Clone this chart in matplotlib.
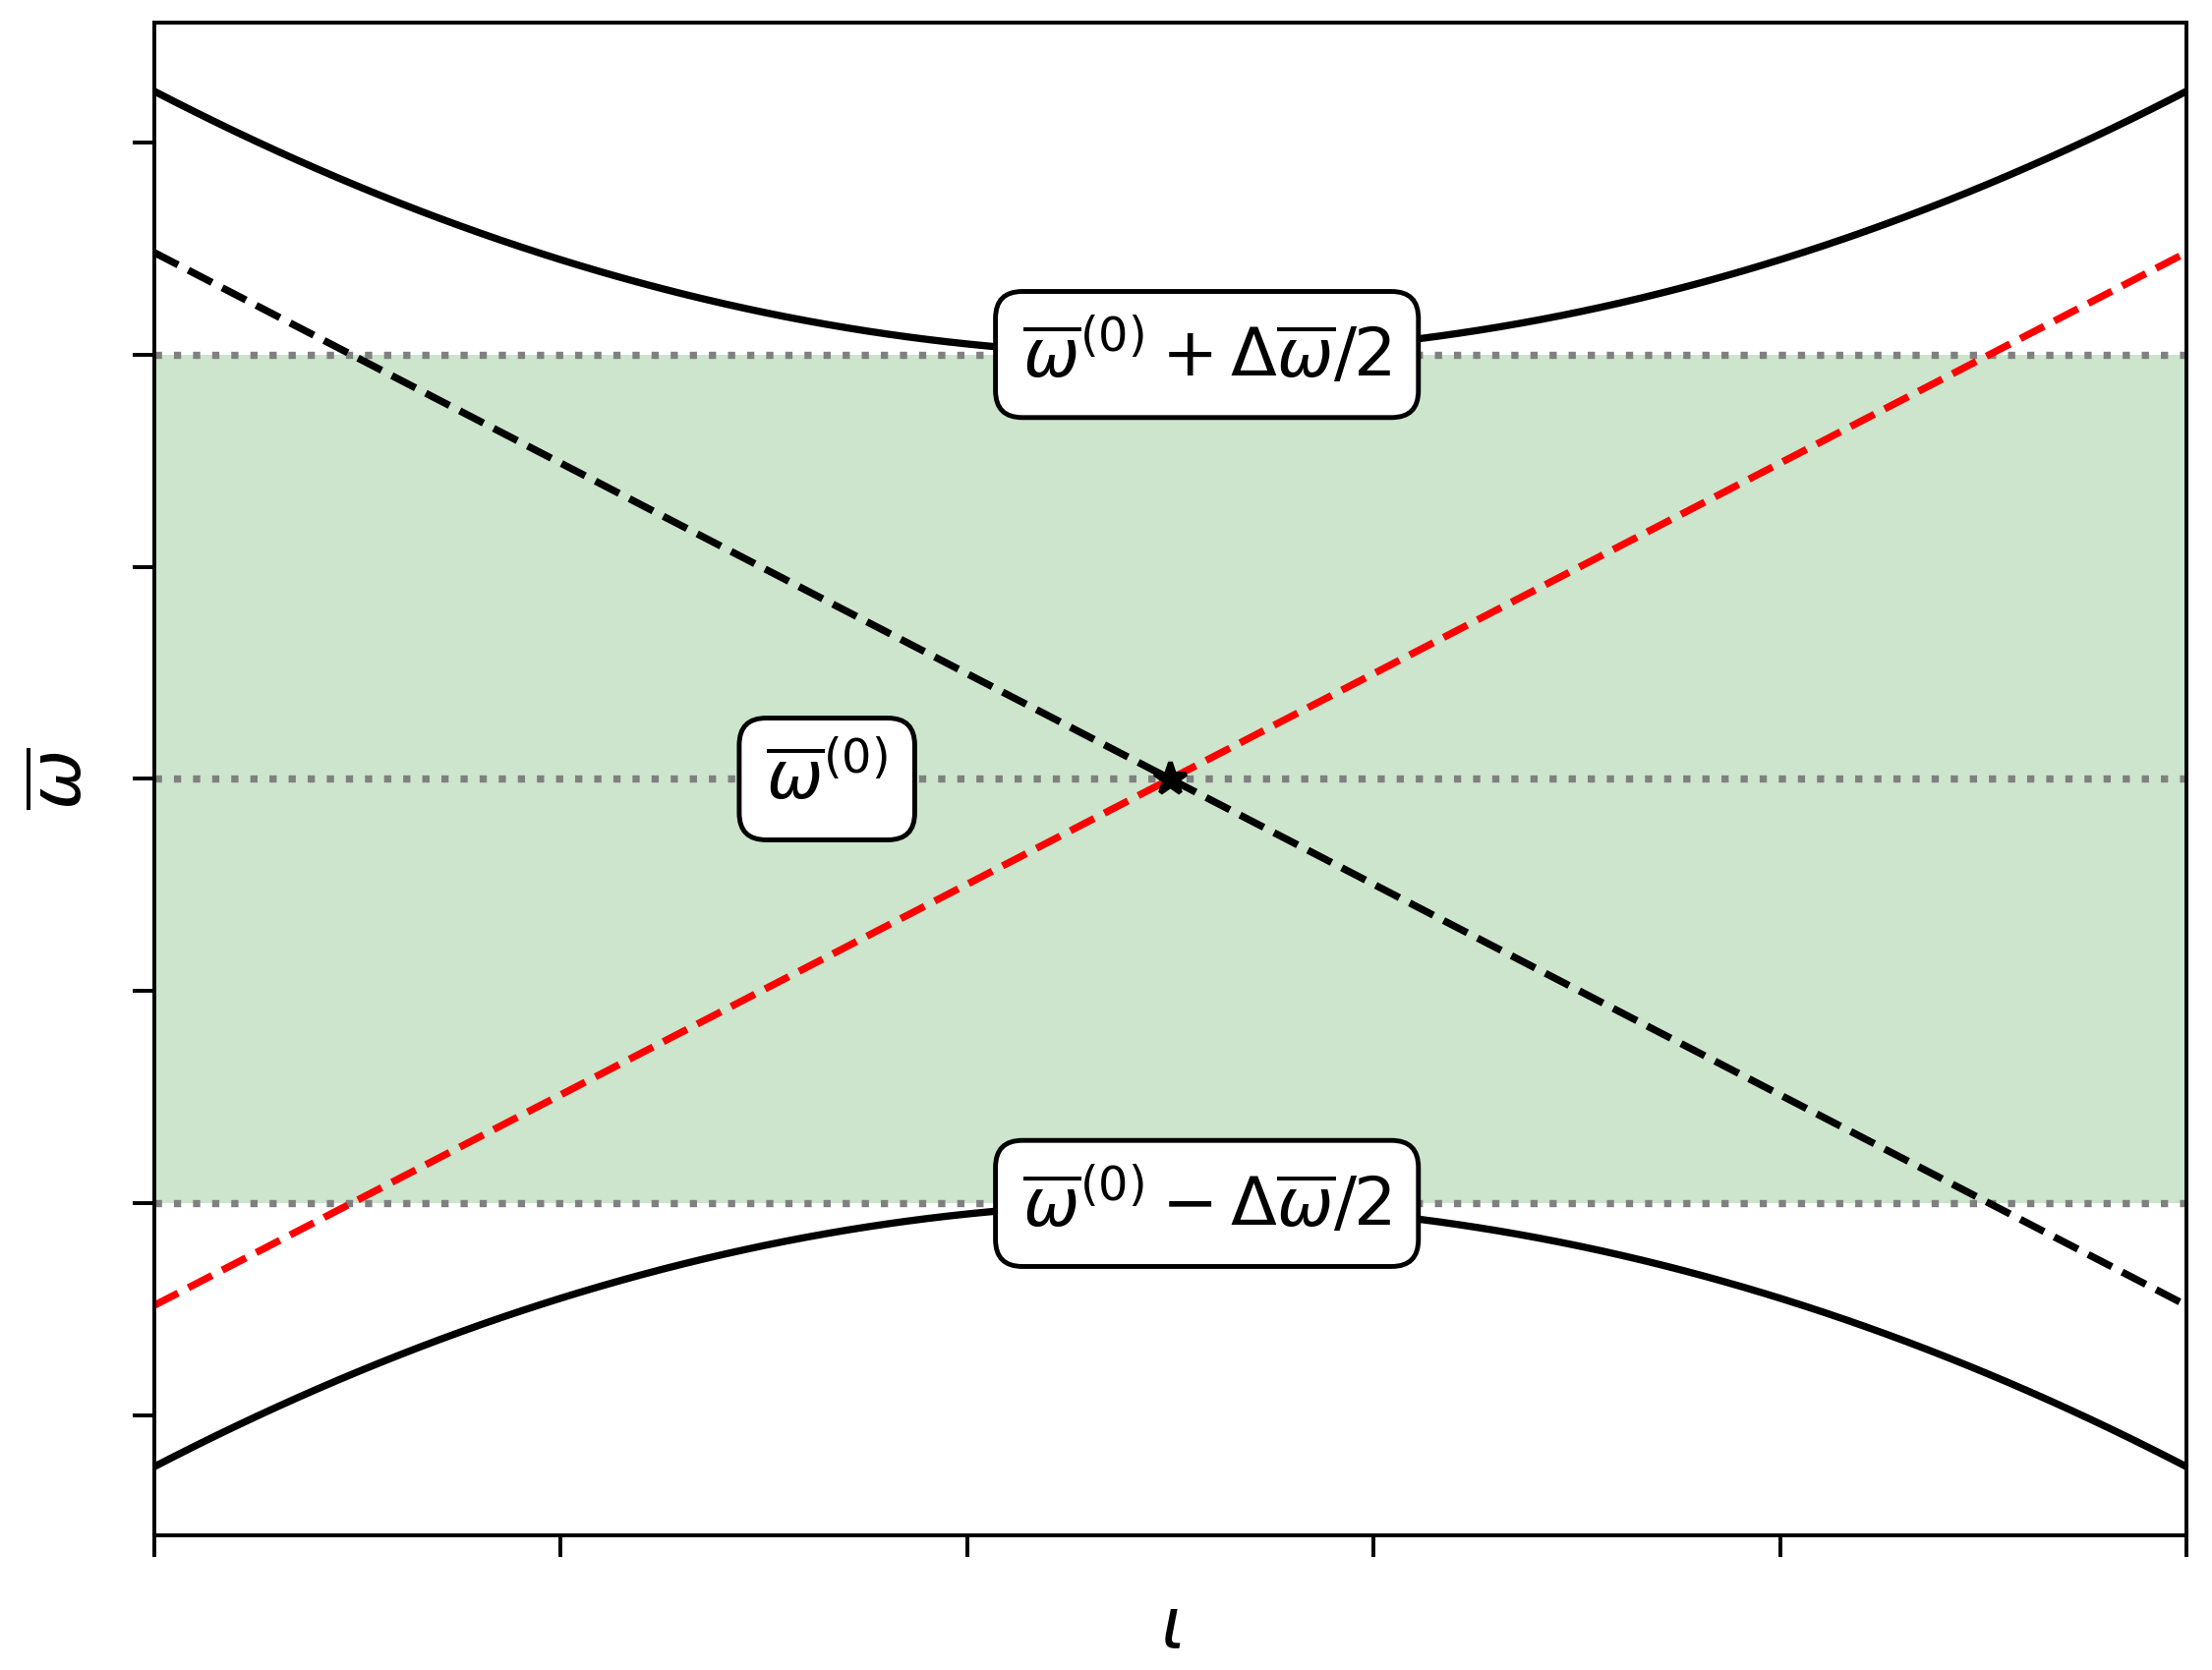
import numpy as np
import matplotlib
matplotlib.use("Agg")
import matplotlib.pyplot as plt

# Model parameters (schematic avoided crossing)
iota_min, iota_max = 0.0, 1.0
iota_cross = 0.5
omega0 = 0.0          # centre frequency
delta_omega = 2.0     # band width
slope = 2.48          # diabatic slope
curvature = 2.48      # curvature of the adiabatic branches
xticks = [0.0, 0.2, 0.4, 0.6, 0.8, 1.0]
yticks = [-1.5, -1.0, -0.5, 0.0, 0.5, 1.0, 1.5]

labels = [r"$\overline{\omega}^{(0)} + \Delta\overline{\omega}/2$",
          r"$\overline{\omega}^{(0)}$",
          r"$\overline{\omega}^{(0)} - \Delta\overline{\omega}/2$"]
label_x = [0.518, 0.331, 0.518]
label_y = [omega0 + delta_omega / 2, omega0, omega0 - delta_omega / 2]

iota = np.linspace(iota_min, iota_max, 400)
d = iota - iota_cross
diab_down = omega0 - slope * d
diab_up = omega0 + slope * d
upper = omega0 + delta_omega / 2 + curvature * d ** 2
lower = omega0 - delta_omega / 2 - curvature * d ** 2

dpi = 352
fig = plt.figure(figsize=(2250 / dpi, 1699 / dpi), dpi=dpi)
ax = fig.add_axes([0.0698, 0.0806, 0.9884 - 0.0698, 0.9865 - 0.0806])

ax.axhspan(omega0 - delta_omega / 2, omega0 + delta_omega / 2,
           color="green", alpha=0.2, lw=0)
for yv in label_y:
    ax.axhline(yv, color="gray", ls=":", lw=1.5)

ax.plot(iota, upper, color="black", lw=1.5)
ax.plot(iota, lower, color="black", lw=1.5)
ax.plot(iota, diab_down, color="black", ls="--", lw=1.5)
ax.plot(iota, diab_up, color="red", ls="--", lw=1.5)
ax.plot([iota_cross], [omega0], marker="*", color="black", ms=7)

for t, x, y in zip(labels, label_x, label_y):
    ax.text(x, y, t, fontsize=14, ha="center", va="center",
            bbox=dict(boxstyle="round,pad=0.4", fc="white", ec="black"),
            zorder=5)

ax.set_xlim(iota_min, iota_max)
ax.set_xticks(xticks)
ax.set_yticks(yticks)
ax.set_xticklabels([])
ax.set_yticklabels([])
ax.tick_params(length=4.5)
ax.set_xlabel(r"$\iota$", fontsize=15)
ax.set_ylabel(r"$\overline{\omega}$", fontsize=15)

fig.savefig("out.png", dpi=dpi)
